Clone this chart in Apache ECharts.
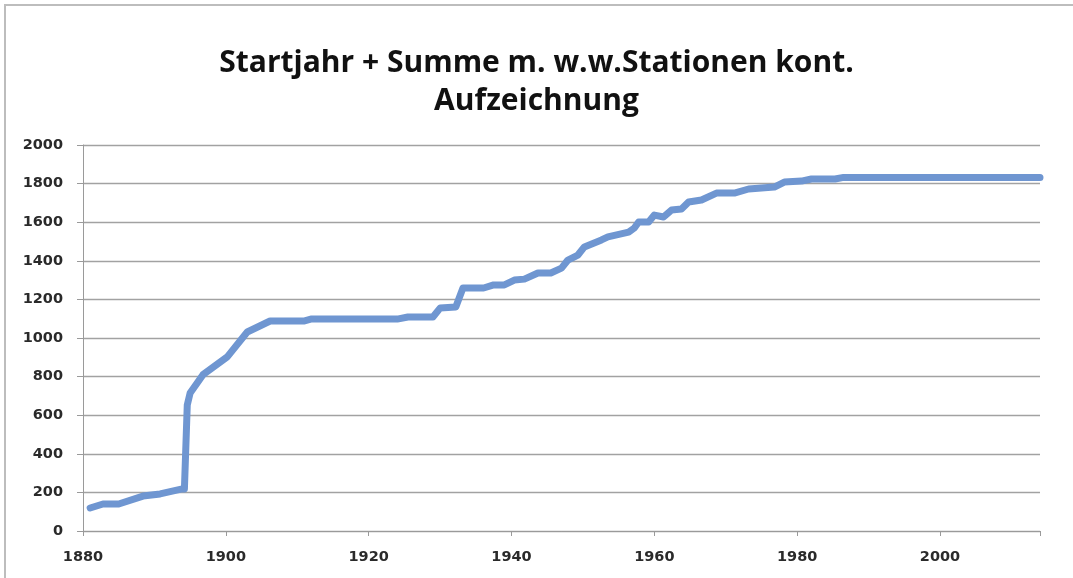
<!DOCTYPE html>
<html>
<head>
<meta charset="utf-8">
<script src="https://cdn.jsdelivr.net/npm/echarts@6/dist/echarts.min.js"></script>
<style>
  html, body { margin: 0; padding: 0; background: #fff; }
  #chart { width: 1073px; height: 578px; }
</style>
</head>
<body>
<div id="chart"></div>
<script>
const titleLines = ['Startjahr + Summe m. w.w.Stationen kont.', 'Aufzeichnung'];

// kink points
const years = [1881, 1882.8, 1885, 1888.4, 1890.8, 1893.9, 1894.2, 1894.6, 1895, 1896.8, 1900.2, 1903, 1906.2,
  1910.9, 1911.9, 1924, 1925.5, 1929, 1930, 1932.2, 1933.2, 1936.1, 1937.5, 1939, 1940.4, 1941.8, 1943.7,
  1945.5, 1947, 1947.9, 1949.3, 1950.2, 1952.6, 1953.5, 1956.4, 1957.2, 1957.8, 1959.2, 1960, 1961.3,
  1962.4, 1963.8, 1964.8, 1966.6, 1968.7, 1971.2, 1973.2, 1976.8, 1978.2, 1980.6, 1982, 1985.3, 1986.5, 2014];
const stations = [119, 140, 140, 181, 192, 218, 218, 653, 715, 810, 902, 1031, 1088,
  1088, 1098, 1098, 1109, 1109, 1155, 1161, 1259, 1259, 1275, 1275, 1300, 1305, 1337,
  1337, 1362, 1404, 1430, 1472, 1508, 1524, 1549, 1570, 1601, 1601, 1637, 1627,
  1663, 1668, 1705, 1715, 1751, 1751, 1772, 1782, 1808, 1813, 1824, 1824, 1832, 1832];

const xTicks = [1880, 1900, 1920, 1940, 1960, 1980, 2000];
const yTicks = [0, 200, 400, 600, 800, 1000, 1200, 1400, 1600, 1800, 2000];

const chart = echarts.init(document.getElementById('chart'));

const labelStyle = { color: '#2a2a2a', fontFamily: 'DejaVu Sans', fontWeight: 'bold', fontSize: 14.5 };

const option = {
  animation: false,
  backgroundColor: '#fff',
  graphic: [{
    type: 'rect',
    shape: { x: 5, y: 5, width: 1100, height: 600 },
    style: { fill: 'none', stroke: '#bdbdbd', lineWidth: 2 }
  }],
  title: {
    text: titleLines.join('\n'),
    left: 'center',
    top: 39,
    textStyle: {
      fontFamily: 'Open Sans',
      fontWeight: 'bold',
      fontSize: 30,
      lineHeight: 38,
      color: '#111'
    }
  },
  grid: { left: 83, right: 33, top: 145, bottom: 47 },
  xAxis: {
    type: 'value',
    min: 1880,
    max: 2014,
    interval: 20,
    axisLine: { show: true, lineStyle: { color: '#9a9a9a', width: 1 } },
    axisTick: { show: true, length: 5, lineStyle: { color: '#9a9a9a' } },
    axisLabel: Object.assign({}, labelStyle, {
      margin: 19,
      formatter: v => xTicks.includes(v) ? String(v) : ''
    }),
    splitLine: { show: false }
  },
  yAxis: {
    type: 'value',
    min: 0,
    max: 2000,
    interval: 200,
    axisLine: { show: true, lineStyle: { color: '#9a9a9a', width: 1 } },
    axisTick: { show: true, length: 6, lineStyle: { color: '#9a9a9a' } },
    axisLabel: Object.assign({}, labelStyle, {
      margin: 20,
      formatter: v => yTicks.includes(v) ? String(v) : ''
    }),
    splitLine: { show: true, lineStyle: { color: '#a2a2a2', width: 1.4 } }
  },
  series: [{
    type: 'line',
    data: years.map((y, i) => [y, stations[i]]),
    showSymbol: false,
    lineStyle: { color: '#6f96d1', width: 7, join: 'round', cap: 'round' }
  }]
};

chart.setOption(option);
</script>
</body>
</html>
